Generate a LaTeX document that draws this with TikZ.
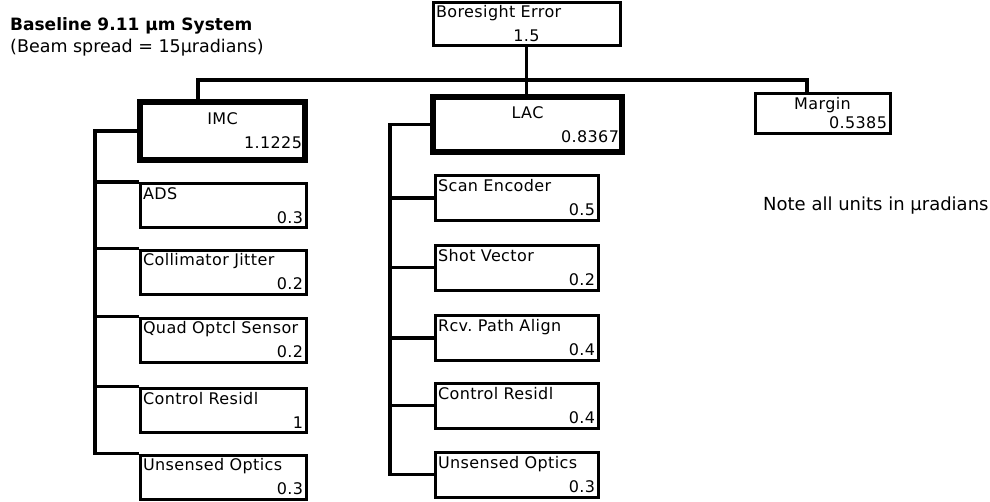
\documentclass[tikz,border=0pt]{standalone}
\usepackage{fontspec}
\setmainfont{DejaVu Sans}
\newfontfamily\boxfont{DejaVu Sans}[LetterSpace=2.5]
\newcommand\boxtext{\boxfont\fontsize{16}{24}\selectfont\hyphenpenalty=10000\relax}
\newcommand\margintext{\boxfont\fontsize{16}{19}\selectfont}
\begin{document}
\begin{tikzpicture}[x=1pt,y=-1pt,
  box/.style={rectangle, draw, line width=3pt, inner xsep=3pt, inner ysep=1pt, align=left, font=\boxtext},
  group/.style={box, line width=6pt},
  imcitem/.style={box, text width=160pt, minimum height=44pt},
  lacitem/.style={box, text width=157pt, minimum height=45pt},
  link/.style={line width=3.2pt, line join=miter},
  caption/.style={anchor=base west, inner sep=0pt, font=\fontsize{17.5}{19}\selectfont}]
				\useasboundingbox (0,0) rectangle (990,501);

				% Captions
				\node[caption, font=\bfseries\fontsize{17}{19}\selectfont] (title) at (10,30) {Baseline 9.11 µm System};
				\node[caption] (spread) at (10,52) {(Beam spread = 15µradians)};
				\node[caption, font=\fontsize{18}{20}\selectfont] (note) at (763,210) {Note all units in µradians};

				% Top of the tree
				\node[box, text width=181pt, minimum height=43pt] (bore) at (526.5,23.5) {Boresight Error\\\hfill 1.5\hfill\null};

				% Three branches
				\node[group, text width=159pt, minimum height=58pt] (imc) at (222.5,131) {\hfill IMC\hfill\null\\\hfill 1.1225};
				\node[group, text width=183pt, minimum height=55pt] (lac) at (527.5,124.5) {\hfill LAC\hfill\null\\\hfill 0.8367};
				\node[box, text width=129pt, minimum height=40pt, font=\margintext] (margin) at (822.5,113) {\hfill Margin\hfill\null\\\hfill 0.5385};

				% IMC items
				\node[imcitem] (ads) at (223,205.5) {ADS\\\hfill 0.3};
				\node[imcitem] (jitter) at (223,272) {Collimator Jitter\\\hfill 0.2};
				\node[imcitem] (quad) at (223,340) {Quad Optcl Sensor\\\hfill 0.2};
				\node[imcitem] (resid1) at (223,410) {Control Residl\\\hfill 1};
				\node[imcitem] (optics1) at (223,477) {Unsensed Optics\\\hfill 0.3};

				% LAC items
				\node[lacitem] (scan) at (516.5,198) {Scan Encoder\\\hfill 0.5};
				\node[lacitem] (shot) at (516.5,267.5) {Shot Vector\\\hfill 0.2};
				\node[lacitem] (rcv) at (516.5,338) {Rcv.\ Path Align\\\hfill 0.4};
				\node[lacitem] (resid2) at (516.5,405.5) {Control Residl\\\hfill 0.4};
				\node[lacitem] (optics2) at (516.5,474.5) {Unsensed Optics\\\hfill 0.3};

				% Bus under the top box
				\coordinate (busL) at (198,80);
				\coordinate (busR) at (807,80);
				\draw[link] (bore.south) -- (bore.south |- lac.north);
				\draw[link] (busL |- imc.north) -- (busL) -- (busR) -- (busR |- margin.north);

				% IMC trunk
				\coordinate (imctrunk) at (95,0);
				\draw[link] (imc.west) -- (imc.west -| imctrunk) -- (optics1.north west -| imctrunk) -- (optics1.north west);
				\draw[link] (ads.north west) -- (ads.north west -| imctrunk);
				\draw[link] (jitter.north west) -- (jitter.north west -| imctrunk);
				\draw[link] (quad.north west) -- (quad.north west -| imctrunk);
				\draw[link] (resid1.north west) -- (resid1.north west -| imctrunk);

				% LAC trunk
				\coordinate (lactrunk) at (390,0);
				\draw[link] (lac.west) -- (lac.west -| lactrunk) -- (optics2.west -| lactrunk) -- (optics2.west);
				\draw[link] (scan.west) -- (scan.west -| lactrunk);
				\draw[link] (shot.west) -- (shot.west -| lactrunk);
				\draw[link] (rcv.west) -- (rcv.west -| lactrunk);
				\draw[link] (resid2.west) -- (resid2.west -| lactrunk);
\end{tikzpicture}
\end{document}
